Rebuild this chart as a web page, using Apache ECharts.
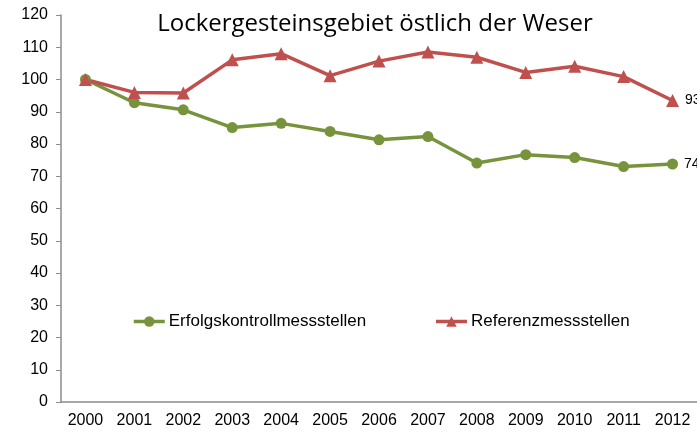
<!DOCTYPE html>
<html>
<head>
<meta charset="utf-8">
<script src="https://cdn.jsdelivr.net/npm/echarts@6/dist/echarts.min.js"></script>
<style>
  html, body { margin: 0; padding: 0; background: #fff; }
  #chart { width: 697px; height: 433px; }
</style>
</head>
<body>
<div id="chart"></div>
<script>
const jahre = ["2000", "2001", "2002", "2003", "2004", "2005", "2006", "2007", "2008", "2009", "2010", "2011", "2012"];
const erfolgskontrolle = [100, 92.8, 90.6, 85.1, 86.4, 83.9, 81.3, 82.3, 74.1, 76.7, 75.8, 73.0, 73.8];
const referenz = [100, 96.0, 95.8, 106.1, 108.0, 101.2, 105.7, 108.5, 106.9, 102.2, 104.1, 100.9, 93.5];
const endLabels = ["74", "93"];

const grafico = echarts.init(document.getElementById("chart"));

function letzterWert(wert, label) {
  // only the last point gets a label
  return wert.map((v, i) => i === wert.length - 1
    ? { value: v, label: { show: true, position: "right", formatter: label, distance: 6 } }
    : v);
}

grafico.setOption({
  animation: false,
  title: {
    text: "Lockergesteinsgebiet östlich der Weser",
    left: 370,
    textAlign: "center",
    top: 7,
    textStyle: { fontFamily: "Open Sans", fontWeight: "normal", fontSize: 24, color: "#000" }
  },
  legend: {
    left: 132,
    top: 313,
    padding: 0,
    itemWidth: 31,
    itemHeight: 13,
    itemGap: 68,
    lineStyle: { width: 3.5 },
    textStyle: { fontFamily: "Liberation Sans", fontSize: 17, color: "#000", padding: [0, 0, 0, -1] },
    data: ["Erfolgskontrollmessstellen", "Referenzmessstellen"]
  },
  grid: { left: 61, top: 15, width: 637, height: 387 },
  xAxis: {
    type: "category",
    data: jahre,
    axisLine: { lineStyle: { color: "#8c8c8c", width: 1.5 } },
    axisTick: { length: 5, lineStyle: { color: "#8c8c8c" } },
    axisLabel: { fontFamily: "Liberation Sans", fontSize: 16, color: "#000", margin: 11 }
  },
  yAxis: {
    type: "value",
    min: 0,
    max: 120,
    interval: 10,
    splitLine: { show: false },
    axisLine: { show: true, lineStyle: { color: "#8c8c8c", width: 1.5 } },
    axisTick: { show: true, length: 5, lineStyle: { color: "#8c8c8c" } },
    axisLabel: { fontFamily: "Liberation Sans", fontSize: 16, color: "#000", margin: 13 }
  },
  series: [
    {
      name: "Erfolgskontrollmessstellen",
      type: "line",
      data: letzterWert(erfolgskontrolle, endLabels[0]),
      symbol: "circle",
      symbolSize: 11,
      lineStyle: { color: "#77933C", width: 3.5 },
      itemStyle: { color: "#77933C" },
      label: { fontFamily: "Liberation Sans", fontSize: 14, color: "#000" }
    },
    {
      name: "Referenzmessstellen",
      type: "line",
      data: letzterWert(referenz, endLabels[1]),
      symbol: "triangle",
      symbolSize: 13,
      lineStyle: { color: "#C0504D", width: 3.5 },
      itemStyle: { color: "#C0504D" },
      label: { fontFamily: "Liberation Sans", fontSize: 14, color: "#000" }
    }
  ]
});
</script>
</body>
</html>
